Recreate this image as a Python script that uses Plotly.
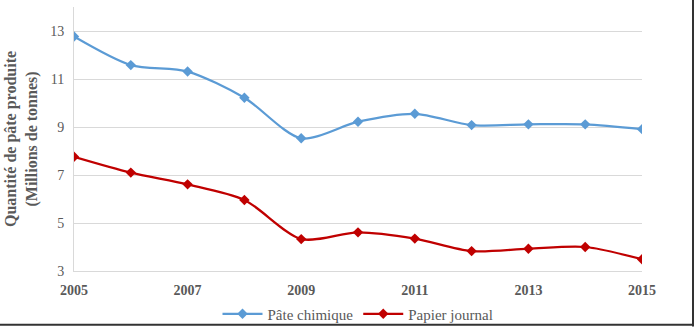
import plotly.graph_objects as go

years = list(range(2005, 2016))
pate_chimique = [12.77, 11.58, 11.31, 10.22, 8.53, 9.22, 9.55, 9.08, 9.11, 9.11, 8.91]
papier_journal = [7.76, 7.10, 6.61, 5.96, 4.33, 4.61, 4.35, 3.83, 3.93, 4.00, 3.49]
x_ticks = [2005, 2007, 2009, 2011, 2013, 2015]
y_ticks = [3, 5, 7, 9, 11, 13]

font = "Liberation Serif, Times New Roman, serif"

fig = go.Figure()
fig.add_trace(go.Scatter(
    x=years, y=pate_chimique, name="Pâte chimique", mode="lines+markers",
    line=dict(color="#5B9BD5", width=2.25, shape="spline", smoothing=0.8),
    marker=dict(symbol="diamond", size=8, color="#5B9BD5"),
))
fig.add_trace(go.Scatter(
    x=years, y=papier_journal, name="Papier journal", mode="lines+markers",
    line=dict(color="#C00000", width=2.25, shape="spline", smoothing=0.8),
    marker=dict(symbol="diamond", size=8, color="#C00000"),
))

fig.update_layout(
    width=697, height=327,
    margin=dict(l=74, r=55, t=7, b=56, autoexpand=False),
    paper_bgcolor="white", plot_bgcolor="white",
    font=dict(family=font, color="#595959"),
    showlegend=True,
    legend=dict(orientation="h", x=0.5, xanchor="center", y=-0.163, yanchor="middle",
                bgcolor="rgba(0,0,0,0)",
                font=dict(size=15, family=font, color="#595959"),
                itemwidth=40, tracegroupgap=0),
    xaxis=dict(range=[2005, 2015], tickvals=x_ticks,
               ticktext=["<b>%d</b>" % t for t in x_ticks],
               tickfont=dict(size=14, family=font, color="#595959"),
               showgrid=False, showline=True, linecolor="#D9D9D9", linewidth=1,
               ticks="", ticklabelstandoff=6, zeroline=False),
    yaxis=dict(range=[3, 14], tickvals=y_ticks,
               tickfont=dict(size=14, family=font, color="#595959"),
               showgrid=True, gridcolor="#D9D9D9", gridwidth=1,
               showline=True, linecolor="#D9D9D9", linewidth=1,
               ticks="", ticklabelstandoff=6, zeroline=False,
               title=dict(text="<b>Quantité de pâte produite<br>(Millions de tonnes)</b>",
                          font=dict(size=16, family=font, color="#595959"), standoff=8)),
)

# dark frame edges at right and bottom of the image
fig.add_shape(type="line", xref="paper", yref="paper", x0=1.0898, x1=1.0898, y0=-0.21, y1=1.03,
              line=dict(color="#333333", width=2))
fig.add_shape(type="line", xref="paper", yref="paper", x0=-0.14, x1=1.0898, y0=-0.204, y1=-0.204,
              line=dict(color="#333333", width=2))

fig.write_html("out.html")
